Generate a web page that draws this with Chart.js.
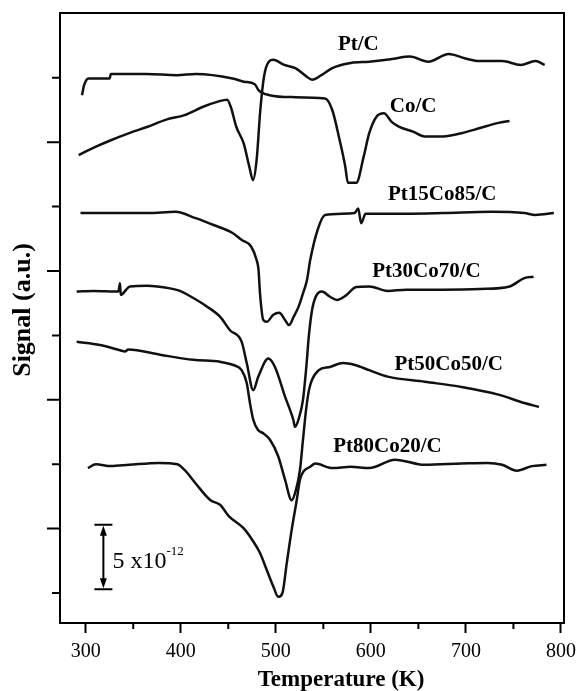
<!DOCTYPE html>
<html>
<head>
<meta charset="utf-8">
<script src="https://cdn.jsdelivr.net/npm/chart.js@4.4.1/dist/chart.umd.min.js"></script>
<style>
  html, body { margin: 0; padding: 0; background: #fff; }
  #wrap { width: 579px; height: 691px; }
</style>
</head>
<body>
<div id="wrap"><canvas id="tpd" width="579" height="691"></canvas></div>
<script>
// ------------------------------------------------------------
// Data (temperature in K, signal in arbitrary offset units)
// ------------------------------------------------------------
const xTickLabels = [300, 400, 500, 600, 700, 800];
const xMinorTicks = [350, 450, 550, 650, 750];
const yMajorTicks = [2, 4, 6, 8];
const yMinorTicks = [1, 3, 5, 7, 9];

const ptcT = [292.6, 310.8, 326.4, 345.8, 365.2, 384.7, 404.0, 423.5, 439.1, 448.8, 452.6, 458.4, 466.2, 472.1, 476.0, 479.8, 483.7, 487.6, 492.6, 497.4, 508.9, 520.6, 532.3, 538.1, 547.9, 559.4, 578.9, 598.3, 621.6, 641.1, 660.5, 681.9, 699.3, 714.8, 738.2, 757.6, 773.2, 782.9];
const ptcS = [7.80, 7.93, 8.03, 8.14, 8.24, 8.35, 8.42, 8.55, 8.63, 8.66, 8.55, 8.24, 7.98, 7.62, 7.41, 7.72, 8.50, 9.02, 9.25, 9.28, 9.20, 9.15, 9.02, 8.97, 9.04, 9.15, 9.23, 9.25, 9.29, 9.33, 9.25, 9.37, 9.30, 9.26, 9.26, 9.20, 9.26, 9.20];

const cocT = [296.1, 298.4, 303.1, 325.2, 326.4, 363.3, 396.0, 416.0, 454.5, 466.2, 477.9, 481.8, 493.5, 516.7, 551.8, 559.4, 567.2, 573.1, 575.8, 584.7, 592.5, 598.3, 606.1, 613.8, 621.6, 629.4, 645.0, 656.6, 676.0, 695.4, 714.8, 734.3, 745.9];
const cocS = [8.73, 8.89, 8.99, 8.99, 9.06, 9.06, 9.04, 9.06, 8.99, 8.94, 8.90, 8.81, 8.73, 8.70, 8.68, 8.50, 8.03, 7.62, 7.37, 7.37, 7.78, 8.14, 8.40, 8.45, 8.32, 8.24, 8.16, 8.09, 8.09, 8.14, 8.22, 8.30, 8.33];

const pt15T = [294.5, 326.4, 365.2, 394.4, 415.7, 435.2, 454.5, 464.3, 474.0, 479.8, 481.8, 483.4, 486.8, 490.4, 497.4, 503.7, 509.7, 513.9, 518.8, 524.1, 528.1, 532.8, 536.2, 544.0, 551.8, 582.8, 586.7, 589.8, 594.4, 637.2, 676.0, 726.5, 761.5, 773.2, 792.5];
const pt15S = [6.90, 6.90, 6.90, 6.92, 6.82, 6.71, 6.59, 6.48, 6.38, 6.17, 6.02, 5.65, 5.24, 5.21, 5.32, 5.35, 5.24, 5.16, 5.29, 5.45, 5.63, 5.86, 6.17, 6.64, 6.87, 6.90, 6.97, 6.74, 6.89, 6.89, 6.90, 6.92, 6.90, 6.87, 6.90];

const pt30T = [290.5, 308.0, 334.3, 336.1, 336.8, 346.6, 364.2, 388.7, 399.2, 413.2, 427.3, 441.3, 451.8, 464.1, 469.4, 476.3, 481.6, 492.1, 499.1, 509.7, 518.4, 520.2, 524.4, 528.6, 531.8, 534.9, 538.1, 542.3, 548.6, 557.0, 564.4, 572.8, 584.7, 598.3, 617.7, 637.2, 676.0, 714.8, 745.9, 761.5, 771.2];
const pt30S = [5.68, 5.69, 5.68, 5.81, 5.63, 5.76, 5.77, 5.73, 5.69, 5.58, 5.45, 5.29, 5.08, 4.90, 4.57, 4.15, 4.36, 4.64, 4.51, 4.05, 3.69, 3.58, 3.72, 4.00, 4.46, 5.01, 5.39, 5.61, 5.68, 5.60, 5.55, 5.61, 5.75, 5.76, 5.69, 5.71, 5.71, 5.72, 5.76, 5.89, 5.91];

const pt50T = [290.5, 315.0, 336.1, 341.3, 344.8, 378.2, 413.2, 441.3, 455.3, 464.1, 469.4, 472.8, 476.3, 481.3, 486.8, 493.9, 502.6, 509.7, 516.7, 521.2, 525.4, 528.6, 531.8, 534.9, 538.1, 545.1, 557.0, 570.7, 583.3, 598.3, 617.7, 656.6, 695.4, 734.3, 761.5, 776.9];
const pt50S = [4.90, 4.85, 4.77, 4.75, 4.78, 4.70, 4.62, 4.59, 4.54, 4.46, 4.26, 3.95, 3.69, 3.53, 3.48, 3.38, 3.12, 2.76, 2.44, 2.60, 2.91, 3.38, 3.84, 4.15, 4.31, 4.46, 4.51, 4.57, 4.54, 4.46, 4.36, 4.28, 4.20, 4.08, 3.95, 3.89];

const pt80T = [302.3, 310.8, 326.4, 345.8, 376.9, 396.4, 404.0, 415.7, 431.3, 441.3, 450.8, 465.8, 476.3, 483.4, 490.4, 497.4, 502.6, 507.0, 511.5, 516.7, 522.0, 525.4, 529.3, 536.2, 541.5, 559.4, 578.9, 598.3, 625.5, 656.6, 695.4, 722.7, 738.2, 753.7, 769.3, 784.8];
const pt80S = [2.94, 3.00, 2.97, 2.99, 3.02, 3.00, 2.91, 2.70, 2.44, 2.37, 2.19, 2.01, 1.80, 1.62, 1.36, 1.10, 0.94, 1.00, 1.46, 1.98, 2.44, 2.76, 2.89, 2.96, 3.01, 2.94, 2.96, 2.94, 3.07, 2.99, 3.01, 3.02, 2.99, 2.90, 2.97, 2.99];

const SERIF = "'Liberation Serif', 'Times New Roman', serif";

const pairs = (t, s) => t.map((x, i) => ({ x: x, y: s[i] }));

const curves = [
  { name: 'Pt/C', t: ptcT, s: ptcS },
  { name: 'Co/C', t: cocT, s: cocS },
  { name: 'Pt15Co85/C', t: pt15T, s: pt15S },
  { name: 'Pt30Co70/C', t: pt30T, s: pt30S },
  { name: 'Pt50Co50/C', t: pt50T, s: pt50S },
  { name: 'Pt80Co20/C', t: pt80T, s: pt80S }
];

// curve captions, placed in data coordinates (x = centre, y = baseline)
const curveLabels = [
  { text: 'Pt/C', x: 586.8, y: 9.43 },
  { text: 'Co/C', x: 644.5, y: 8.47 },
  { text: 'Pt15Co85/C', x: 675.0, y: 7.10 },
  { text: 'Pt30Co70/C', x: 658.5, y: 5.91 },
  { text: 'Pt50Co50/C', x: 681.9, y: 4.46 },
  { text: 'Pt80Co20/C', x: 617.4, y: 3.19 }
];

// vertical scale bar: one minor tick = 5 x10^-12
const scaleBar = { x: 318.6, top: 2.06, bottom: 1.06 };

// box, extra ticks, captions, titles, scale bar
const overlay = {
  id: 'overlay',
  afterDraw(chart) {
    const { ctx, chartArea: a, scales: { x, y } } = chart;
    ctx.save();
    ctx.strokeStyle = '#000';
    ctx.fillStyle = '#000';
    ctx.lineWidth = 2;
    ctx.strokeRect(a.left, a.top, a.right - a.left, a.bottom - a.top);

    ctx.beginPath();
    xMinorTicks.forEach(v => {
      const px = x.getPixelForValue(v);
      ctx.moveTo(px, a.bottom); ctx.lineTo(px, a.bottom + 6);
    });
    yMajorTicks.forEach(v => {
      const py = y.getPixelForValue(v);
      ctx.moveTo(a.left, py); ctx.lineTo(a.left - 13, py);
    });
    yMinorTicks.forEach(v => {
      const py = y.getPixelForValue(v);
      ctx.moveTo(a.left, py); ctx.lineTo(a.left - 8, py);
    });
    ctx.stroke();

    ctx.font = `bold 21px ${SERIF}`;
    ctx.textAlign = 'center';
    ctx.textBaseline = 'alphabetic';
    curveLabels.forEach(l => ctx.fillText(l.text, x.getPixelForValue(l.x), y.getPixelForValue(l.y)));

    ctx.font = `bold 23px ${SERIF}`;
    ctx.fillText('Temperature (K)', 341, 686);
    ctx.save();
    ctx.translate(30, 310);
    ctx.rotate(-Math.PI / 2);
    ctx.font = `bold 26px ${SERIF}`;
    ctx.fillText('Signal (a.u.)', 0, 0);
    ctx.restore();

    // scale bar
    const bx = x.getPixelForValue(scaleBar.x);
    const yTop = y.getPixelForValue(scaleBar.top);
    const yBot = y.getPixelForValue(scaleBar.bottom);
    ctx.beginPath();
    ctx.moveTo(bx - 9, yTop); ctx.lineTo(bx + 9, yTop);
    ctx.moveTo(bx - 9, yBot); ctx.lineTo(bx + 9, yBot);
    ctx.moveTo(bx, yTop + 6); ctx.lineTo(bx, yBot - 6);
    ctx.stroke();
    ctx.beginPath();
    ctx.moveTo(bx, yTop + 1); ctx.lineTo(bx - 3.5, yTop + 11); ctx.lineTo(bx + 3.5, yTop + 11); ctx.closePath();
    ctx.moveTo(bx, yBot - 1); ctx.lineTo(bx - 3.5, yBot - 11); ctx.lineTo(bx + 3.5, yBot - 11); ctx.closePath();
    ctx.fill();

    const mid = (yTop + yBot) / 2;
    ctx.textAlign = 'left';
    ctx.font = `24px ${SERIF}`;
    ctx.fillText('5 x10', bx + 9, mid + 11);
    const w = ctx.measureText('5 x10').width;
    ctx.font = `13px ${SERIF}`;
    ctx.fillText('-12', bx + 9 + w, mid - 2);
    ctx.restore();
  }
};

new Chart(document.getElementById('tpd'), {
  type: 'line',
  data: {
    datasets: curves.map(c => ({
      label: c.name,
      data: pairs(c.t, c.s),
      borderColor: '#111',
      borderWidth: 2.5,
      pointRadius: 0,
      cubicInterpolationMode: 'monotone',
      fill: false
    }))
  },
  options: {
    responsive: false,
    animation: false,
    layout: { padding: { top: 13, right: 15, left: 0, bottom: 0 } },
    plugins: {
      legend: { display: false },
      tooltip: { enabled: false }
    },
    scales: {
      x: {
        type: 'linear',
        min: 272.96,
        max: 803.2,
        afterBuildTicks: s => { s.ticks = xTickLabels.map(v => ({ value: v })); },
        afterFit: s => { s.height = 68; s.paddingLeft = 0; s.paddingRight = 0; },
        grid: { drawOnChartArea: false, drawTicks: true, tickLength: 10, tickWidth: 2, tickColor: '#000' },
        border: { display: true, color: '#000', width: 2 },
        ticks: { color: '#000', font: { family: SERIF, size: 20 }, padding: 7, maxRotation: 0, autoSkip: false }
      },
      y: {
        type: 'linear',
        min: 0.534,
        max: 10.006,
        afterFit: s => { s.width = 60; },
        grid: { display: false },
        border: { display: true, color: '#000', width: 2 },
        ticks: { display: false }
      }
    }
  },
  plugins: [overlay]
});
</script>
</body>
</html>
